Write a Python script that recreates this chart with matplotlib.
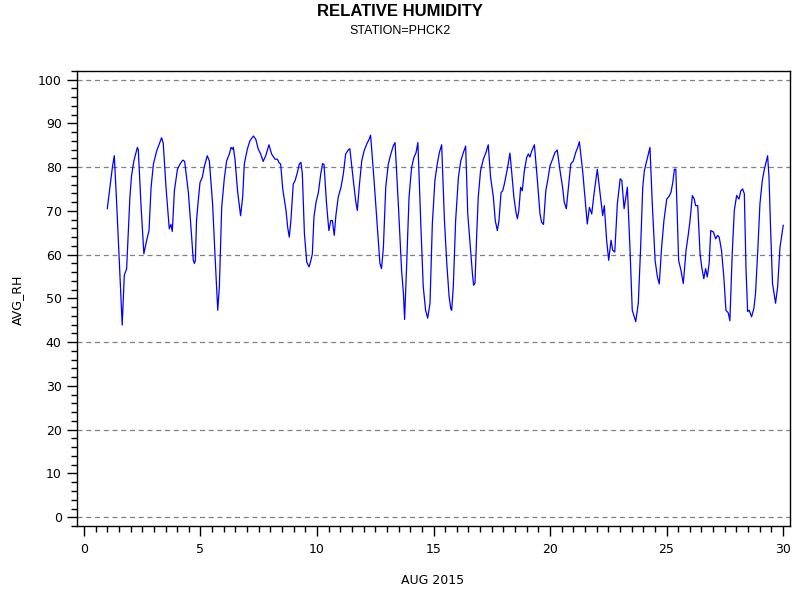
import matplotlib
matplotlib.use("Agg")
import matplotlib.pyplot as plt
from matplotlib.ticker import MultipleLocator

# day of month (fractional) and average relative humidity
days = [1.00, 1.15, 1.22, 1.30, 1.40, 1.52, 1.64, 1.73, 1.83, 1.97, 2.04, 2.14, 2.29, 2.33,
        2.45, 2.57, 2.69, 2.79, 2.88, 2.98, 3.12, 3.33, 3.40, 3.52, 3.66, 3.73, 3.79, 3.88,
        4.01, 4.12, 4.24, 4.32, 4.48, 4.59, 4.69, 4.74, 4.78, 4.83, 4.91, 4.98, 5.08, 5.16,
        5.29, 5.38, 5.52, 5.62, 5.74, 5.81, 5.91, 6.02, 6.12, 6.24, 6.31, 6.37, 6.41, 6.48,
        6.59, 6.72, 6.81, 6.88, 7.01, 7.12, 7.27, 7.37, 7.48, 7.58, 7.69, 7.80, 7.94, 8.05,
        8.20, 8.30, 8.37, 8.44, 8.53, 8.67, 8.74, 8.81, 8.88, 8.98, 9.06, 9.16, 9.24, 9.31,
        9.37, 9.46, 9.56, 9.66, 9.74, 9.80, 9.87, 9.96, 10.06, 10.16, 10.24, 10.30, 10.41,
        10.51, 10.59, 10.66, 10.74, 10.81, 10.91, 11.03, 11.13, 11.23, 11.34, 11.41, 11.56,
        11.66, 11.73, 11.81, 11.92, 12.02, 12.13, 12.24, 12.30, 12.45, 12.59, 12.70, 12.77,
        12.85, 12.95, 13.06, 13.17, 13.27, 13.35, 13.49, 13.63, 13.71, 13.76, 13.85, 13.95,
        14.06, 14.16, 14.25, 14.33, 14.46, 14.56, 14.66, 14.75, 14.85, 14.95, 15.06, 15.16,
        15.25, 15.35, 15.47, 15.57, 15.67, 15.74, 15.78, 15.85, 15.95, 16.07, 16.17, 16.28,
        16.38, 16.47, 16.57, 16.67, 16.72, 16.78, 16.85, 16.92, 17.02, 17.14, 17.25, 17.35,
        17.45, 17.57, 17.65, 17.74, 17.81, 17.90, 17.97, 18.04, 18.11, 18.18, 18.28, 18.35,
        18.45, 18.54, 18.60, 18.66, 18.74, 18.81, 18.90, 19.00, 19.07, 19.14, 19.21, 19.33,
        19.46, 19.57, 19.64, 19.72, 19.82, 19.90, 20.00, 20.11, 20.21, 20.31, 20.43, 20.54,
        20.61, 20.70, 20.79, 20.89, 21.00, 21.10, 21.19, 21.26, 21.40, 21.50, 21.60, 21.69,
        21.79, 21.89, 22.03, 22.15, 22.26, 22.33, 22.43, 22.52, 22.62, 22.69, 22.78, 22.89,
        23.01, 23.08, 23.18, 23.32, 23.43, 23.53, 23.68, 23.79, 23.89, 23.98, 24.05, 24.15,
        24.29, 24.39, 24.51, 24.61, 24.69, 24.79, 24.89, 25.01, 25.11, 25.19, 25.27, 25.34,
        25.40, 25.52, 25.62, 25.72, 25.84, 25.94, 26.01, 26.11, 26.19, 26.25, 26.34, 26.44,
        26.51, 26.60, 26.68, 26.75, 26.83, 26.90, 27.01, 27.11, 27.19, 27.26, 27.36, 27.46,
        27.55, 27.65, 27.72, 27.82, 27.91, 28.01, 28.11, 28.19, 28.27, 28.34, 28.41, 28.48,
        28.55, 28.65, 28.75, 28.82, 28.91, 29.01, 29.11, 29.20, 29.27, 29.34, 29.40, 29.47,
        29.55, 29.68, 29.77, 29.87, 30.01]

rh = [70.5, 77.0, 80.0, 82.6, 72.0, 58.0, 43.9, 55.3, 56.8, 73.1, 78.0, 81.4, 84.5, 84.0,
      71.0, 60.2, 63.3, 65.5, 75.4, 80.7, 83.7, 86.7, 85.5, 75.4, 65.9, 66.9, 65.3, 74.6,
      79.5, 80.7, 81.6, 81.3, 74.2, 66.3, 58.7, 58.0, 58.7, 67.8, 72.7, 76.5, 77.7, 80.0,
      82.6, 81.4, 71.6, 60.2, 47.3, 52.7, 70.8, 77.3, 81.4, 83.0, 84.5, 84.1, 84.5, 81.8,
      74.6, 68.9, 73.1, 80.7, 84.1, 86.0, 87.1, 86.4, 84.1, 83.0, 81.3, 82.6, 85.1, 83.0,
      81.8, 81.8, 81.0, 80.7, 75.0, 70.1, 66.3, 64.0, 67.8, 76.1, 76.9, 78.8, 80.7, 81.1,
      78.5, 64.8, 58.3, 57.2, 58.7, 60.2, 68.6, 72.0, 74.2, 78.4, 80.8, 80.6, 71.6,
      65.5, 67.8, 67.8, 64.4, 68.9, 73.1, 75.4, 78.4, 83.0, 83.9, 84.2, 76.9,
      72.3, 70.1, 75.4, 81.4, 83.7, 85.2, 86.4, 87.3, 76.9, 66.3, 58.0, 56.8,
      61.7, 75.4, 80.7, 83.0, 84.8, 85.6, 71.6, 56.4, 51.1, 45.2, 58.0, 73.1,
      79.9, 82.2, 83.3, 85.6, 66.3, 52.7, 47.3, 45.5, 48.9, 67.0, 76.9, 80.7,
      83.3, 85.1, 67.8, 58.0, 50.4, 47.7, 47.3, 52.7, 67.8, 77.7, 81.4, 83.3,
      84.8, 69.3, 62.5, 55.7, 53.0, 53.5, 64.0, 73.1, 79.2, 81.8, 83.3, 85.1,
      77.7, 73.1, 67.8, 65.5, 67.8, 74.2, 74.6, 76.1, 78.0, 79.9, 83.2, 79.2,
      73.1, 69.7, 68.2, 70.0, 75.4, 74.6, 79.2, 82.2, 83.0, 82.3, 83.6, 85.1,
      76.9, 69.3, 67.4, 66.9, 74.6, 76.9, 80.3, 81.8, 83.3, 83.9, 79.2, 75.4,
      72.0, 70.5, 75.4, 80.7, 81.4, 83.3, 84.5, 85.8, 79.2, 73.1, 67.0, 70.8,
      69.3, 73.9, 79.5, 73.9, 68.9, 71.2, 63.3, 58.7, 63.3, 61.0, 60.6, 71.6,
      77.3, 77.0, 70.5, 75.4, 61.7, 47.3, 44.7, 48.9, 61.7, 75.4, 79.2, 81.4,
      84.5, 71.6, 58.7, 54.9, 53.3, 61.7, 67.8, 72.7, 73.3, 74.2, 76.5, 79.5,
      79.5, 58.7, 56.4, 53.4, 61.0, 64.8, 67.8, 73.5, 72.7, 71.2, 71.2, 60.2,
      57.2, 54.5, 56.8, 54.9, 58.0, 65.5, 65.2, 63.6, 64.4, 64.0, 61.0, 54.9,
      47.3, 46.7, 44.9, 60.2, 70.1, 73.5, 72.7, 74.6, 75.0, 73.9, 57.2, 47.0,
      47.3, 45.8, 47.7, 51.1, 60.2, 71.6, 76.9, 79.5, 81.1, 82.6, 77.5, 65.5,
      53.4, 48.9, 52.7, 61.7, 66.7]

grid_levels = [0, 20, 40, 60, 80, 100]

fig = plt.figure(figsize=(8, 6), dpi=100)
ax = fig.add_axes([0.09625, 0.1233, 0.89125, 0.7587])

for g in grid_levels:
    ax.axhline(g, color="#808080", linestyle=(0, (4, 3)), linewidth=0.9, zorder=1)

ax.plot(days, rh, color="blue", linewidth=0.9, zorder=2)

ax.set_xlim(-0.3, 30.3)
ax.set_ylim(-2, 102)
ax.xaxis.set_major_locator(MultipleLocator(5))
ax.xaxis.set_minor_locator(MultipleLocator(0.5))
ax.yaxis.set_major_locator(MultipleLocator(10))
ax.yaxis.set_minor_locator(MultipleLocator(2))
ax.tick_params(which="major", direction="out", length=7, width=1, labelsize=9, pad=4)
ax.tick_params(which="minor", direction="out", length=4, width=1)
ax.tick_params(axis="x", which="major", pad=5)
for s in ax.spines.values():
    s.set_linewidth(1)

# axis labels placed the way SAS puts them
fig.text(17 / 800, 0.5, "AVG_RH", rotation=90, ha="center", va="center", fontsize=9)
fig.text(433 / 800, 1 - 580 / 600, "AUG 2015", ha="center", va="center", fontsize=9)

fig.text(0.5, 0.981, "RELATIVE HUMIDITY", ha="center", va="center",
         fontsize=12, fontweight="bold", family="Liberation Sans")
fig.text(0.5, 0.949, "STATION=PHCK2", ha="center", va="center",
         fontsize=9, family="Liberation Sans")

fig.savefig("out.png", dpi=100)
